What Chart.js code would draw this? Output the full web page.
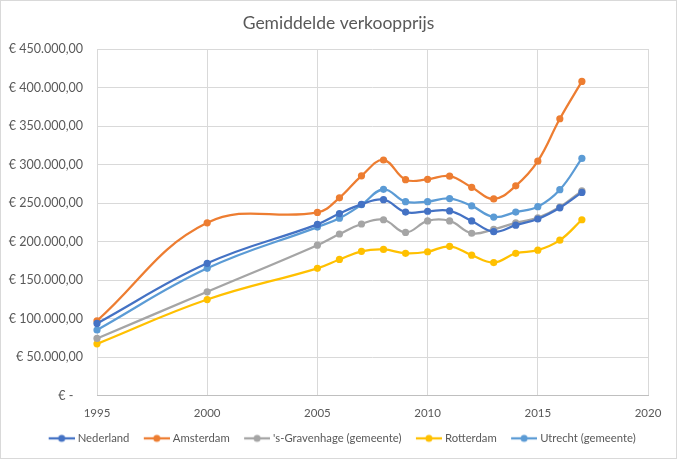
<!DOCTYPE html>
<html>
<head>
<meta charset="utf-8">
<script src="https://cdn.jsdelivr.net/npm/chart.js@4"></script>
<style>
  html, body { margin: 0; padding: 0; background: #fff; }
  #wrap { width: 677px; height: 459px; box-sizing: border-box; border: 1px solid #d9d9d9; position: relative; }
</style>
</head>
<body>
<div id="wrap"><canvas id="chart"></canvas></div>
<script>
// Average sale price per year.
const years = [1995, 2000, 2005, 2006, 2007, 2008, 2009, 2010, 2011, 2012, 2013, 2014, 2015, 2016, 2017];

const nederland  = [94000, 172000, 222500, 236500, 248500, 254500, 238500, 239500, 240000, 227000, 213000, 221500, 229500, 244000, 264000];
const amsterdam  = [97500, 224500, 238000, 257000, 285500, 306000, 280500, 281000, 285000, 270500, 255500, 272500, 304500, 359500, 408000];
const denHaag    = [74500, 135000, 195500, 210000, 223000, 228500, 212000, 227000, 227000, 211000, 216000, 224500, 231000, 245000, 266000];
const rotterdam  = [67500, 125000, 165500, 177000, 187500, 190000, 185000, 187000, 194000, 182500, 173000, 185000, 189000, 202000, 228500];
const utrecht    = [85500, 165500, 219000, 230500, 248000, 268000, 252000, 252000, 256000, 246500, 232000, 238500, 245500, 267500, 308000];

const seriesNames = ["Nederland", "Amsterdam", "'s-Gravenhage (gemeente)", "Rotterdam", "Utrecht (gemeente)"];
const seriesValues = [nederland, amsterdam, denHaag, rotterdam, utrecht];
const seriesColors = ["#4472C4", "#ED7D31", "#A5A5A5", "#FFC000", "#5B9BD5"];

const xTicks = [1995, 2000, 2005, 2010, 2015, 2020];

(function () {
  const FONT = "Lato, 'Open Sans', sans-serif";
  const TEXT = "#595959";

  // Excel-style legend key: short line with a dot in the middle.
  // Canvas is wider than the line so the key sits right after the gap,
  // which gives Excel's spacing without a taller legend box.
  function legendKey(color) {
    const c = document.createElement("canvas");
    c.width = 36; c.height = 10;
    const g = c.getContext("2d");
    g.strokeStyle = color;
    g.lineWidth = 2.25;
    g.beginPath(); g.moveTo(10, 5); g.lineTo(36, 5); g.stroke();
    g.fillStyle = color;
    g.beginPath(); g.arc(23, 5, 3.5, 0, Math.PI * 2); g.fill();
    return c;
  }

  function euro(v) {
    if (v === 0) return "€ -   ";
    const s = Math.round(v).toString().replace(/\B(?=(\d{3})+(?!\d))/g, ".");
    return "€ " + s + ",00";
  }

  const datasets = seriesNames.map((name, i) => ({
    label: name,
    data: years.map((y, j) => ({ x: y, y: seriesValues[i][j] })),
    borderColor: seriesColors[i],
    backgroundColor: seriesColors[i],
    borderWidth: 2.25,
    pointRadius: 3.6,
    pointHoverRadius: 4,
    pointBorderWidth: 0,
    tension: 0.4,
    showLine: true,
    fill: false,
    clip: false,
  }));
  const keys = seriesColors.map(legendKey);

  new Chart(document.getElementById("chart"), {
    type: "scatter",
    data: { datasets },
    options: {
      responsive: true,
      maintainAspectRatio: false,
      animation: false,
      layout: { padding: { top: 0, right: 0, bottom: 4, left: 0 } },
      scales: {
        x: {
          type: "linear",
          min: 1995,
          max: 2020,
          afterBuildTicks: (s) => { s.ticks = xTicks.map((v) => ({ value: v })); },
          // labels hang a bit into the legend area, like Excel's
          afterFit: (s) => { s.height -= 4; },
          ticks: { color: TEXT, font: { family: FONT, size: 11.5 }, padding: 10, callback: (v) => String(v) },
          grid: { color: "#d9d9d9", drawTicks: false },
          border: { color: "#bfbfbf", width: 1 },
        },
        y: {
          min: 0,
          max: 450000,
          afterFit: (s) => { s.width = 96; },
          ticks: { stepSize: 50000, color: TEXT, font: { family: FONT, size: 12.5 }, padding: 14, callback: euro },
          grid: { color: "#d9d9d9", drawTicks: false },
          border: { display: false },
        },
        // empty right-hand gutter, keeps title and legend centred on the full width
        gutter: {
          axis: "y",
          position: "right",
          afterFit: (s) => { s.width = 28; },
          ticks: { display: false },
          grid: { display: false, drawTicks: false },
          border: { display: false },
        },
      },
      plugins: {
        title: {
          display: true,
          text: "Gemiddelde verkoopprijs",
          color: TEXT,
          font: { family: FONT, size: 17.5, weight: "normal" },
          padding: { top: 12, bottom: 15 },
        },
        legend: {
          position: "bottom",
          labels: {
            color: TEXT,
            font: { family: FONT, size: 11.3 },
            usePointStyle: true,
            pointStyleWidth: 30.75,
            padding: 7,
            generateLabels: (chart) =>
              Chart.defaults.plugins.legend.labels.generateLabels(chart).map((l, i) => ({ ...l, pointStyle: keys[i] })),
          },
        },
        tooltip: { enabled: false },
      },
    },
  });
})();
</script>
</body>
</html>
